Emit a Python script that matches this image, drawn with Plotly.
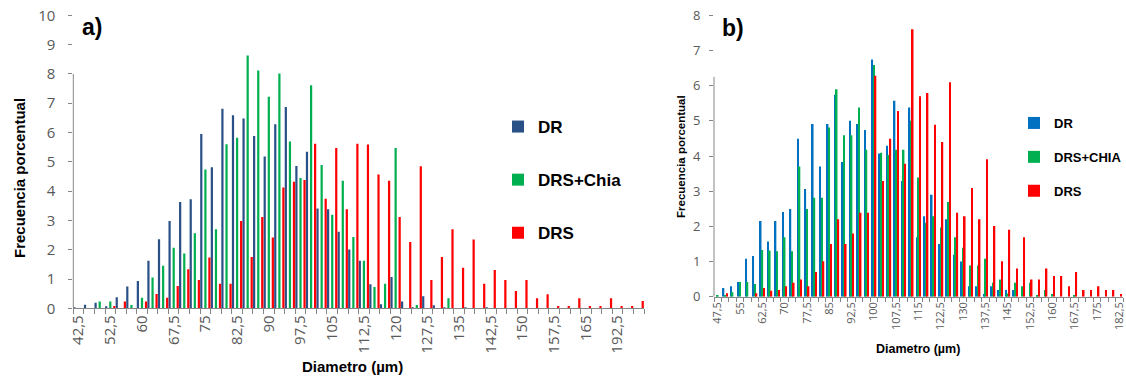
import plotly.graph_objects as go

# ---------------- Panel a) data ----------------
a_categories = ["42,5", "47,5", "50", "52,5", "55", "57,5", "60", "62,5", "65", "67,5",
                "70", "72,5", "75", "77,5", "80", "82,5", "85", "87,5", "90", "92,5",
                "95", "97,5", "100", "102,5", "105", "107,5", "110", "112,5", "115", "117,5",
                "120", "122,5", "125", "127,5", "130", "132,5", "135", "137,5", "140", "142,5",
                "145", "147,5", "150", "152,5", "155", "157,5", "160", "162,5", "165", "167,5",
                "170", "192,5", "195", "197,5"]
a_tick_labels = ["42,5", "52,5", "60", "67,5", "75", "82,5", "90", "97,5", "105", "112,5",
                 "120", "127,5", "135", "142,5", "150", "157,5", "165", "192,5"]
a_dr = [0.03, 0.12, 0.19, 0.04, 0.38, 0.74, 0.93, 1.62, 2.36, 2.98,
        3.63, 3.72, 5.95, 4.81, 6.81, 6.59, 6.48, 5.88, 5.18, 6.28,
        6.87, 4.86, 5.34, 3.41, 3.38, 2.61, 2.01, 1.62, 0.82, 0.14,
        1.07, 0.23, 0.02, 0.41, 0.10, 0.03, 0, 0.03, 0, 0.03,
        0, 0, 0, 0, 0, 0, 0, 0, 0, 0,
        0, 0, 0, 0]
a_drs_chia = [0, 0, 0.23, 0.23, 0, 0.11, 0.36, 1.05, 1.45, 2.07,
              1.87, 2.56, 4.74, 2.70, 5.60, 5.82, 8.63, 8.12, 7.22, 8.01,
              5.69, 4.45, 7.61, 4.89, 3.19, 4.35, 2.43, 1.62, 0.73, 0.84,
              5.47, 0, 0.11, 0, 0, 0.34, 0, 0, 0, 0,
              0, 0, 0, 0, 0, 0, 0, 0, 0, 0,
              0, 0, 0, 0]
a_drs = [0, 0, 0, 0.08, 0.23, 0, 0.23, 0.49, 0.36, 0.76,
         1.33, 0.97, 1.73, 0.84, 0.84, 2.98, 1.75, 3.12, 2.42, 4.12,
         4.32, 4.38, 5.62, 3.74, 5.47, 3.38, 5.62, 5.59, 4.57, 4.35,
         3.12, 2.26, 4.85, 0.97, 1.75, 2.70, 1.38, 2.35, 0.84, 1.31,
         0.97, 0.59, 0.97, 0.34, 0.48, 0.08, 0.08, 0.34, 0.08, 0.08,
         0.34, 0.08, 0.08, 0.25]

# ---------------- Panel b) data ----------------
b_categories = ["47,5", "50", "52,5", "55", "57,5", "60", "62,5", "65", "67,5", "70",
                "72,5", "75", "77,5", "80", "82,5", "85", "87,5", "90", "92,5", "95",
                "97,5", "100", "102,5", "105", "107,5", "110", "112,5", "115", "117,5", "120",
                "122,5", "125", "127,5", "130", "132,5", "135", "137,5", "140", "142,5", "145",
                "147,5", "150", "152,5", "155", "157,5", "160", "162,5", "165", "167,5", "170",
                "172,5", "175", "177,5", "180", "182,5"]
b_tick_labels = ["47,5", "55", "62,5", "70", "77,5", "85", "92,5", "100", "107,5", "115",
                 "122,5", "130", "137,5", "145", "152,5", "160", "167,5", "175", "182,5"]
b_dr = [0, 0.25, 0.30, 0.42, 1.08, 1.16, 2.15, 1.57, 2.15, 2.41,
        2.49, 4.49, 3.06, 4.91, 3.70, 4.91, 5.74, 3.83, 5.00, 4.91,
        4.74, 6.74, 4.07, 4.29, 5.57, 3.29, 5.38, 1.69, 2.29, 2.90,
        1.50, 2.20, 1.19, 1.00, 0.30, 0.30, 0.08, 0.30, 0.19, 0.19,
        0.19, 0, 0, 0, 0, 0, 0, 0, 0, 0,
        0, 0, 0, 0, 0]
b_drs_chia = [0.05, 0.05, 0.13, 0.42, 0.42, 0.36, 1.33, 1.31, 1.29, 1.69,
              1.29, 3.70, 2.49, 2.81, 2.81, 4.81, 5.90, 4.59, 4.59, 5.38,
              4.18, 6.59, 4.09, 4.03, 4.18, 4.18, 5.00, 3.39, 2.10, 2.29,
              1.97, 2.69, 1.69, 1.39, 0.89, 0.89, 1.08, 0.40, 0.49, 0.09,
              0.40, 0.30, 0.40, 0.05, 0.19, 0.08, 0, 0, 0.05, 0,
              0, 0, 0, 0, 0]
b_drs = [0, 0.10, 0, 0, 0, 0.10, 0.25, 0.17, 0.19, 0.30,
         0.40, 0.49, 0.30, 0.70, 1.01, 1.50, 2.20, 1.50, 1.80, 2.39,
         2.39, 6.28, 3.29, 4.49, 5.28, 3.78, 7.60, 5.70, 5.79, 4.89,
         4.40, 6.10, 2.39, 2.29, 3.09, 2.20, 3.91, 2.01, 1.01, 1.90,
         0.80, 1.69, 0.49, 0.49, 0.80, 0.59, 0.59, 0.30, 0.70, 0.19,
         0.19, 0.30, 0.19, 0.19, 0.08]

W, H = 1126, 376
def px(x): return x / W
def py(y): return 1 - y / H

fig = go.Figure()

a_style = [("DR", a_dr, "#2A5088", -0.495),
           ("DRS+Chia", a_drs_chia, "#00B050", -0.105),
           ("DRS", a_drs, "#FF0000", 0.275)]
for i, (name, vals, col, off) in enumerate(a_style):
    fig.add_trace(go.Bar(x=a_categories, y=vals, name=name, marker_color=col,
                         marker_line_width=0, width=0.21, offset=off,
                         xaxis="x", yaxis="y", legend="legend",
                         legendgroup="a%d" % i))

b_style = [("DR", b_dr, "#0070C0", -0.325),
           ("DRS+CHIA", b_drs_chia, "#00B050", -0.105),
           ("DRS", b_drs, "#FF0000", 0.115)]
for i, (name, vals, col, off) in enumerate(b_style):
    fig.add_trace(go.Bar(x=b_categories, y=vals, name=name, marker_color=col,
                         marker_line_width=0, width=0.21, offset=off,
                         xaxis="x2", yaxis="y2", legend="legend2",
                         legendgroup="b%d" % i))

a_ticktext = [c if c in a_tick_labels and i % 3 == 0 else "" for i, c in enumerate(a_categories)]
b_ticktext = [c if c in b_tick_labels else "" for c in b_categories]

axcol = "#868686"
tickfont_col = "#595959"

fig.update_layout(
    width=W, height=H, autosize=False,
    margin=dict(l=0, r=0, t=0, b=0, pad=0, autoexpand=False),
    paper_bgcolor="white", plot_bgcolor="white",
    barmode="overlay",
    xaxis=dict(domain=[px(73.3), px(644)], type="category", automargin=False,
               categoryorder="array", categoryarray=a_categories,
               tickmode="array", tickvals=a_categories, ticktext=a_ticktext,
               tickson="boundaries", ticks="outside", ticklen=5, tickcolor=axcol,
               showline=True, linecolor=axcol, linewidth=1, showgrid=False,
               tickangle=-90, tickfont=dict(family="Open Sans", size=15, color=tickfont_col),
               anchor="y"),
    yaxis=dict(domain=[py(308.3), py(15.3)], range=[0, 10], dtick=1, automargin=False,
               ticks="outside", ticklen=4, tickcolor=axcol, showline=False,
               showgrid=False, zeroline=False, ticklabelstandoff=10,
               tickfont=dict(family="Open Sans", size=15, color=tickfont_col),
               anchor="x"),
    xaxis2=dict(domain=[px(714), px(1123)], type="category", automargin=False,
                categoryorder="array", categoryarray=b_categories,
                tickmode="array", tickvals=b_categories, ticktext=b_ticktext,
                tickson="boundaries", ticks="outside", ticklen=4, tickcolor=axcol,
                showline=True, linecolor=axcol, linewidth=1, showgrid=False,
                tickangle=-90, tickfont=dict(family="Open Sans", size=11, color=tickfont_col),
                anchor="y2"),
    yaxis2=dict(domain=[py(296.7), py(15.3)], range=[0, 8], dtick=1, automargin=False,
                ticks="outside", ticklen=4, tickcolor=axcol, showline=False,
                showgrid=False, zeroline=False, ticklabelstandoff=6,
                tickfont=dict(family="Open Sans", size=13, color=tickfont_col),
                anchor="x2"),
    legend=dict(x=px(498), y=py(109), xanchor="left", yanchor="top",
                font=dict(family="Liberation Sans", size=17, color="black", weight="bold"),
                tracegroupgap=28, bgcolor="rgba(0,0,0,0)", itemclick=False),
    legend2=dict(x=px(1014), y=py(108), xanchor="left", yanchor="top",
                 font=dict(family="Liberation Sans", size=13, color="black", weight="bold"),
                 tracegroupgap=14, bgcolor="rgba(0,0,0,0)", itemclick=False),
    showlegend=True,
)

fig.add_shape(type="line", xref="x domain", yref="y", x0=0, x1=0, y0=0, y1=8,
              line=dict(color=axcol, width=1))
fig.add_shape(type="line", xref="x2 domain", yref="y2", x0=0, x1=0, y0=0, y1=6.25,
              line=dict(color=axcol, width=1))

bold = dict(family="Liberation Sans", color="black", weight="bold")
annots = [
    dict(text="a)", x=px(92), y=py(27), font=dict(size=23, **bold)),
    dict(text="b)", x=px(733), y=py(28), font=dict(size=23, **bold)),
    dict(text="Frecuencia porcentual", x=px(20), y=py(178), textangle=-90,
         font=dict(size=15, **bold)),
    dict(text="Frecuencia porcentual", x=px(681), y=py(157), textangle=-90,
         font=dict(size=11.5, **bold)),
    dict(text="Diametro (µm)", x=px(352), y=py(366), font=dict(size=15, **bold)),
    dict(text="Diametro (µm)", x=px(918), y=py(349), font=dict(size=12.5, **bold)),
]
for a in annots:
    fig.add_annotation(xref="paper", yref="paper", showarrow=False,
                       xanchor="center", yanchor="middle", **a)

fig.write_html("out.html", config={"displayModeBar": False},
               post_script="document.body.style.margin='0px';")
